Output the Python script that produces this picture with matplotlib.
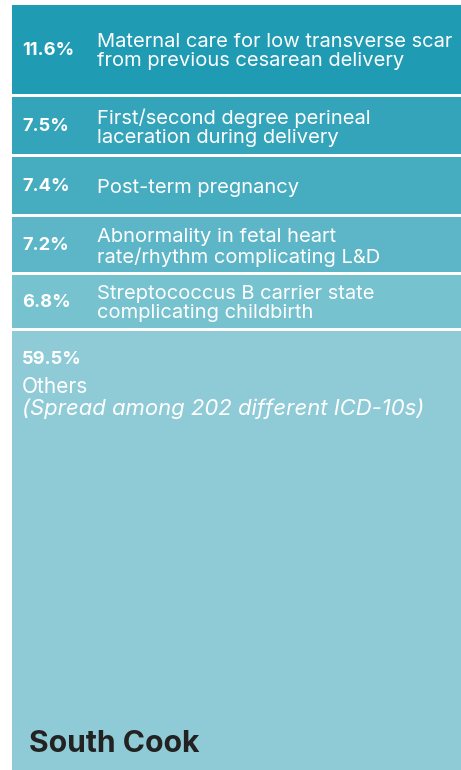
import matplotlib
matplotlib.use("Agg")
import matplotlib.pyplot as plt
import numpy as np

plt.rcParams['font.family'] = ['Inter', 'DejaVu Sans']

# data
shares = [11.6, 7.5, 7.4, 7.2, 6.8, 59.5]
pct_labels = ["11.6%", "7.5%", "7.4%", "7.2%", "6.8%", "59.5%"]
diagnoses = [
    "Maternal care for low transverse scar\nfrom previous cesarean delivery",
    "First/second degree perineal\nlaceration during delivery",
    "Post-term pregnancy",
    "Abnormality in fetal heart\nrate/rhythm complicating L&D",
    "Streptococcus B carrier state\ncomplicating childbirth",
    "Others",
]
others_note = "(Spread among 202 different ICD-10s)"
region = "South Cook"
colors = ["#1f9bb4", "#34a4bb", "#46acc0", "#5db6c7", "#77c2cf", "#8fcbd7"]

W, H = 461, 770
px_per_unit = 7.67          # vertical scale of the block
gap = 3 / px_per_unit       # white gap between blocks, in data units
total = sum(shares) + gap * (len(shares) - 1)
ax_h = total * px_per_unit

fig = plt.figure(figsize=(W / 100, H / 100), dpi=100)
ax = fig.add_axes([12 / W, (H - 5 - ax_h) / H, 1 - 12 / W + 2 / W, ax_h / H])

bottoms = np.concatenate([[0], np.cumsum(shares)[:-1]]) + gap * np.arange(len(shares))
ax.bar(0, shares, bottom=bottoms, width=1, color=colors, linewidth=0)
ax.set_xlim(-0.5, 0.5)
ax.set_ylim(total, 0)
ax.axis("off")

tr = ax.get_yaxis_transform()
for i in range(len(shares) - 1):
    mid = bottoms[i] + shares[i] / 2
    ax.text(0.022, mid + 0.1, pct_labels[i], transform=tr, color="white",
            fontsize=13.2, fontweight="bold", va="center", ha="left")
    ax.text(0.189, mid + 0.3, diagnoses[i], transform=tr, color="white",
            fontsize=14.5, va="center", ha="left", linespacing=1.08)

# the big "others" block, text hung from its top edge
top = bottoms[-1]
ax.annotate(pct_labels[-1], (0.022, top), xycoords=tr, xytext=(0, -23.8),
            textcoords="offset points", color="white", fontsize=13.2,
            fontweight="bold", va="baseline", ha="left")
ax.annotate(diagnoses[-1], (0.022, top), xycoords=tr, xytext=(0, -44.6),
            textcoords="offset points", color="white", fontsize=15,
            va="baseline", ha="left")
ax.annotate(others_note, (0.022, top), xycoords=tr, xytext=(0, -60.5),
            textcoords="offset points", color="white", fontsize=15.9,
            style="italic", va="baseline", ha="left")

fig.text(29 / W, (H - 752) / H, region, color="#222222",
         fontsize=21.7, fontweight="bold", va="baseline", ha="left")

fig.savefig("out.png", dpi=100)
